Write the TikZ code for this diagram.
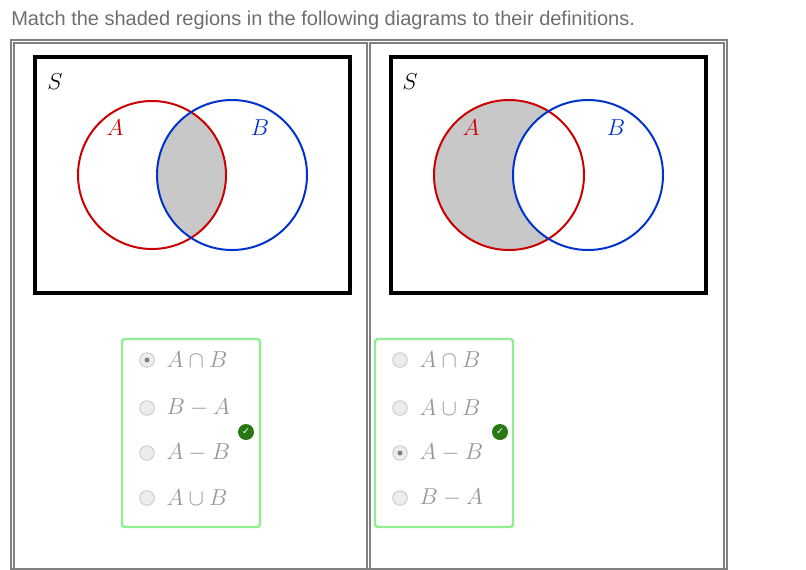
\documentclass[tikz,border=0pt]{standalone}
\usepackage{fontspec}
\setmainfont{Liberation Sans}
\newfontfamily\symfont{DejaVu Sans}
\usepackage{amsmath}
\usetikzlibrary{positioning}
\definecolor{titlegray}{RGB}{110,110,110}
\definecolor{setred}{RGB}{204,0,0}
\definecolor{setblue}{RGB}{0,51,204}
\definecolor{regiongray}{RGB}{200,200,200}
\definecolor{boxgreen}{RGB}{144,238,144}
\definecolor{okgreen}{RGB}{40,120,20}
\definecolor{optgray}{RGB}{150,150,150}
\tikzset{
  cell/.style={draw=gray, line width=0.8pt},
  universe/.style={draw, line width=2.4pt},
  optbox/.style={draw=boxgreen, line width=1.8pt, rounded corners=2pt},
  radio/.style={circle, draw=gray!60, fill=gray!15, minimum size=11pt, inner sep=0pt},
  opt/.style={text=optgray, font=\fontsize{17}{20}\selectfont, anchor=west},
  setlabel/.style={font=\fontsize{18}{20}\selectfont},
  tick/.style={circle, fill=okgreen, minimum size=12pt, inner sep=0pt, text=white, font=\symfont\fontsize{7}{7}\selectfont\bfseries}
}
\begin{document}
\begin{tikzpicture}[x=0.75pt, y=-0.75pt]
    \useasboundingbox (0,0) rectangle (806,569);
    % Titre
    \node[anchor=west, text=titlegray, font=\fontsize{15}{17}\selectfont, inner sep=0pt] (title) at (11,20) {Match the shaded regions in the following diagrams to their definitions.};

    % Tableau
    \draw[cell] (11,40) rectangle (727,569);
    \draw[cell] (14,43) rectangle (367,569);
    \draw[cell] (370,43) rectangle (724,569);

    % Diagramme de gauche : intersection
    \begin{scope}
        \clip (152,175) circle (74);
        \fill[regiongray] (232,175) circle (75);
    \end{scope}
    \draw[universe] (35,57) rectangle (350,293);
    \draw[setred, line width=1.5pt] (152,175) circle (74);
    \draw[setblue, line width=1.5pt] (232,175) circle (75);
    \node[setlabel] (S1) at (55,82) {$S$};
    \node[setlabel, text=setred] (A1) at (115,128) {$A$};
    \node[setlabel, text=setblue] (B1) at (260,128) {$B$};

    % Diagramme de droite : A - B
    \begin{scope}[even odd rule]
        \clip (509,175) circle (75);
        \fill[regiongray] (509,175) circle (75) (588,175) circle (75);
    \end{scope}
    \draw[universe] (391,57) rectangle (706,293);
    \draw[setred, line width=1.5pt] (509,175) circle (75);
    \draw[setblue, line width=1.5pt] (588,175) circle (75);
    \node[setlabel] (S2) at (410,82) {$S$};
    \node[setlabel, text=setred] (A2) at (471,128) {$A$};
    \node[setlabel, text=setblue] (B2) at (616,128) {$B$};

    % Choix de gauche
    \draw[optbox] (122,339) rectangle (260,527);
    \foreach \y/\t [count=\i] in {360/{A\cap B}, 408/{B-A}, 453/{A-B}, 498/{A\cup B}} {
        \node[radio] (r1\i) at (147,\y) {};
        \node[opt] (o1\i) at (162,\y) {$\t$};
    }
    \fill[gray] (r11) circle (2.5);
    \node[tick] (ok1) at (246,432) {✓};

    % Choix de droite
    \draw[optbox] (375,339) rectangle (513,527);
    \foreach \y/\t [count=\i] in {360/{A\cap B}, 408/{A\cup B}, 453/{A-B}, 498/{B-A}} {
        \node[radio] (r2\i) at (400,\y) {};
        \node[opt] (o2\i) at (415,\y) {$\t$};
    }
    \fill[gray] (r23) circle (2.5);
    \node[tick] (ok2) at (500,432) {✓};
\end{tikzpicture}
\end{document}
